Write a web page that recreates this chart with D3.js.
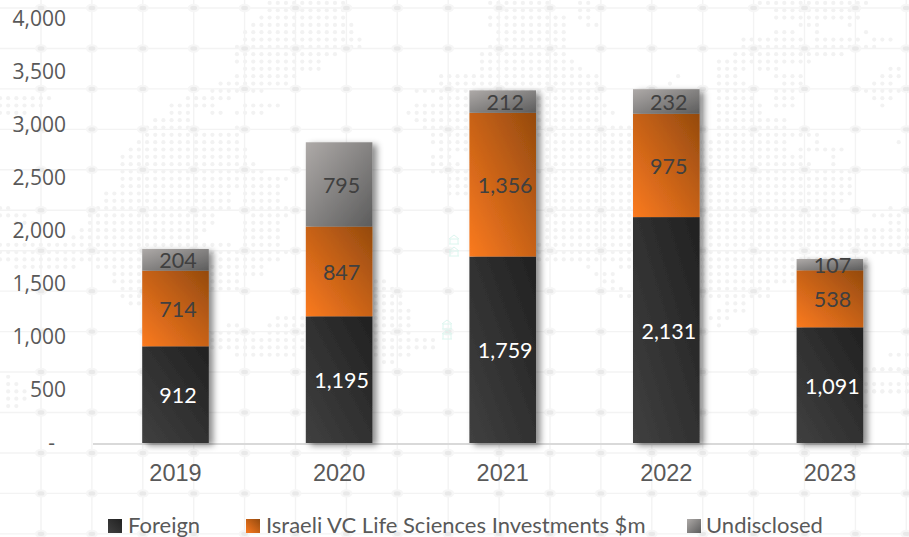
<!DOCTYPE html>
<html><head><meta charset="utf-8">
<script src="https://cdn.jsdelivr.net/npm/d3@7"></script>
<style>html,body{margin:0;padding:0;background:#fff;overflow:hidden}svg{display:block}</style>
</head><body><svg id="c" width="909" height="537"></svg>
<script>
const years = ["2019","2020","2021","2022","2023"];
const foreign = [912,1195,1759,2131,1091];
const israeli = [714,847,1356,975,538];
const undisclosed = [204,795,212,232,107];
const seriesKeys = ["Foreign","Israeli VC Life Sciences Investments $m","Undisclosed"];
const yTicks = [0,500,1000,1500,2000,2500,3000,3500,4000];
// backdrop dot-map: each row is [rowY, x0, x1, x0, x1, ...], snapped to a lattice
const mapRows = [
[3,267,343,493,550,577,587,763,863],[10,267,343,495,550,577,587,780,855],[17,258,343,487,563,577,587,780,855],
[25,250,350,487,563,585,595,797,820,847,847],[32,243,353,495,563,780,790,813,813,863,863],[39,243,360,495,563,747,797,813,855,878,888],
[47,233,360,487,563,740,797,813,873],[54,233,337,478,563,732,740,755,807,813,840],[61,233,320,478,572,723,742,755,807],
[69,243,320,478,580,715,742,763,773,893,902],[76,233,295,440,597,675,675,723,733,773,773,788,798,885,902],
[83,218,287,440,597,667,667,723,740,788,798,877,887],[91,212,260,413,597,723,750,780,798,867,903],
[98,0,50,185,230,440,597,723,750,780,790,877,887],[105,0,42,168,213,243,278,413,603,715,758,780,790,885,885],
[112,0,25,168,190,210,220,235,263,405,612,715,758],[120,153,190,413,597,715,783],[127,145,190,237,237,422,630,715,783],
[135,145,238,430,630,715,813],[142,137,238,430,467,550,783,813,813,900,900],[149,128,247,438,467,550,783,803,840],
[156,120,247,430,450,550,800,837,837],[163,120,255,430,460,550,805,837,837],[170,120,263,430,460,453,848],
[177,120,287,453,467,550,848],[185,120,280,453,467,550,848],[192,103,230,243,280,453,467,550,848],
[199,103,230,243,280,550,845],[207,0,10,97,230,243,295,550,830,887,887],[214,0,23,93,213,250,287,550,830,878,897],
[221,13,33,93,213,243,277,550,830,887,897],[229,80,207,243,277,550,907],[236,70,200,243,277,550,909],
[243,0,227,243,277,537,630,707,909],[251,0,233,243,287,537,630,703,909],[258,0,208,217,277,537,630,703,867],
[265,15,77,95,263,585,585,617,633,703,867],[272,112,263,593,612,703,800],[280,112,238,372,385,602,612,703,793],
[287,120,238,372,393,610,620,703,767],[294,120,147,372,402,617,628,703,767],[301,128,147,372,402,730,743],
[309,372,410,715,743],[316,275,300,372,410,707,727],[323,227,240,267,300,372,410,715,715],[331,210,253,267,410],
[338,210,433],[345,210,433],[352,233,297,372,410],[360,380,393],[358,890,903],[366,867,909],[373,867,909],[381,867,909],
[388,867,909],[395,867,909],[403,867,867],[376,7,7],[383,7,14],[390,7,25],[397,7,25],[404,7,14]
];
const W=909,H=537;
const svg=d3.select("#c");
const defs=svg.append("defs");
function grad(id,x1,y1,x2,y2,c1,c2){
  const g=defs.append("linearGradient").attr("id",id).attr("x1",x1).attr("y1",y1).attr("x2",x2).attr("y2",y2);
  g.append("stop").attr("offset","0%").attr("stop-color",c1);
  g.append("stop").attr("offset","100%").attr("stop-color",c2);
}
grad("g0",0,1,1,0,"#404040","#212121");
grad("g1",0,1,1,0,"#fb7a20","#944a0e");
grad("g2",0,0,1,1,"#aeaaa8","#5c5c5c");
const f=defs.append("filter").attr("id","sh").attr("x","-20%").attr("y","-10%").attr("width","160%").attr("height","125%");
f.append("feDropShadow").attr("dx",4.5).attr("dy",2.5).attr("stdDeviation",3).attr("flood-color","#000").attr("flood-opacity",0.45);

// backdrop
const bg=svg.append("g");
const gx=d3.range(41,W+10,50.9), gy=d3.range(8,H+5,40.45);
const dots=[];
mapRows.forEach(r=>{
  const row=Math.round((r[0]-2.9)/7.33);
  for(let i=1;i<r.length;i+=2){
    for(let c=Math.round(r[i]/8.17);c<=Math.round(r[i+1]/8.17);c++) dots.push([c*8.17,2.9+row*7.33]);
  }
});
bg.selectAll("circle.d").data(dots).join("circle").attr("class","d").attr("cx",d=>d[0]).attr("cy",d=>d[1]).attr("r",2.1).attr("fill","#f2f2f2");
bg.selectAll("line.v").data(gx).join("line").attr("class","v").attr("x1",d=>d).attr("x2",d=>d).attr("y1",0).attr("y2",H).attr("stroke","#f3f3f3").attr("stroke-width",1.4);
bg.selectAll("line.h").data(gy).join("line").attr("class","h").attr("y1",d=>d).attr("y2",d=>d).attr("x1",0).attr("x2",W).attr("stroke","#f3f3f3").attr("stroke-width",1.4);
const nodes=d3.cross(gx,gy);
bg.selectAll("ellipse.a").data(nodes).join("ellipse").attr("class","a").attr("cx",d=>d[0]).attr("cy",d=>d[1]).attr("rx",6).attr("ry",4.2).attr("fill","#f6f6f6");
bg.selectAll("ellipse.b").data(nodes).join("ellipse").attr("class","b").attr("cx",d=>d[0]).attr("cy",d=>d[1]).attr("rx",3.4).attr("ry",2.2).attr("fill","#e9e9e9");
// faint teal glyphs
const ic=svg.append("g").attr("fill","none").attr("stroke","#dcf6ef").attr("stroke-width",1);
[[454,240],[454,252],[447,325],[447,335]].forEach(p=>{
  ic.append("path").attr("d",`M${p[0]-5},${p[1]+4}h10M${p[0]-4},${p[1]+4}v-5h8v5M${p[0]-5},${p[1]-1}l5,-4l5,4`);
});

const x=d3.scaleBand().domain(years).range([93.7,911.7]).paddingInner(0.593).paddingOuter(0.2965);
const y=d3.scaleLinear().domain([0,4000]).range([443,19]);
const rows=years.map((yr,i)=>({year:yr,[seriesKeys[0]]:foreign[i],[seriesKeys[1]]:israeli[i],[seriesKeys[2]]:undisclosed[i]}));
const stacked=d3.stack().keys(seriesKeys)(rows);
const labelFill=["#ffffff","#404040","#404040"];
const labelFont="Lato, 'Noto Sans', sans-serif";

// axis baseline
svg.append("line").attr("x1",93).attr("x2",W).attr("y1",444).attr("y2",444).attr("stroke","#d9d9d9").attr("stroke-width",1.8);

// bars (shadow per column)
const cols=svg.append("g").selectAll("g").data(years).join("g").attr("filter","url(#sh)");
cols.selectAll("rect").data((yr,i)=>stacked.map((s,k)=>({k,d:s[i]}))).join("rect")
  .attr("x",function(){return x(d3.select(this.parentNode).datum());})
  .attr("width",x.bandwidth())
  .attr("y",e=>y(e.d[1])).attr("height",e=>y(e.d[0])-y(e.d[1]))
  .attr("fill",e=>`url(#g${e.k})`);

// data labels
const fmt=d3.format(",");
stacked.forEach((s,k)=>{
  svg.append("g").selectAll("text").data(s).join("text")
    .attr("x",d=>x(d.data.year)+x.bandwidth()/2+2.5)
    .attr("y",d=>(y(d[0])+y(d[1]))/2+0.5)
    .attr("dominant-baseline","central").attr("text-anchor","middle")
    .attr("font-family",labelFont).attr("font-size",21.5).attr("fill",labelFill[k])
    .text(d=>fmt(d[1]-d[0]));
});

// axes
const ya=svg.append("g").attr("transform","translate(66,0)")
  .call(d3.axisLeft(y).tickValues(yTicks).tickSize(0).tickPadding(0).tickFormat(d=>d===0?"-":fmt(d)));
ya.select(".domain").remove();
ya.selectAll("text").attr("font-family","'Open Sans', sans-serif").attr("font-size",21).attr("fill","#595959");
ya.selectAll(".tick").filter(d=>d===0).select("text").attr("dx",-11).attr("dy","0.3em");

const xa=svg.append("g").attr("transform","translate(0,473)")
  .call(d3.axisBottom(x).tickSize(0).tickPadding(0));
xa.select(".domain").remove();
xa.selectAll("text").attr("font-family","'Liberation Sans', Arial, sans-serif").attr("font-size",23.5).attr("fill","#595959")
  .attr("y",0).attr("dy",0).attr("dominant-baseline","central");

// legend
const legX=[108,246,687], txtX=[128,266,706];
const lg=svg.append("g").selectAll("g").data(seriesKeys).join("g");
lg.append("rect").attr("x",(d,i)=>legX[i]).attr("y",519).attr("width",14).attr("height",14).attr("fill",(d,i)=>`url(#g${i})`);
lg.append("text").attr("x",(d,i)=>txtX[i]).attr("y",533).attr("font-family",labelFont).attr("font-size",22).attr("fill","#595959").text(d=>d);
</script></body></html>
